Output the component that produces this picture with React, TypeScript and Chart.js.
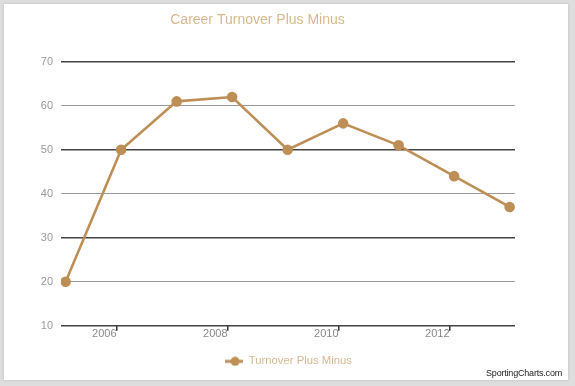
import React, { useEffect, useRef } from "react";
import { Chart, registerables } from "chart.js";

Chart.register(...registerables);

const seasons = [2005, 2006, 2007, 2008, 2009, 2010, 2011, 2012, 2013];
const monthOfEntry = 1 / 12; // points are dated early February of each year
const turnoverPlusMinus = [20, 50, 61, 62, 50, 56, 51, 44, 37];
const xTickYears = [2006, 2008, 2010, 2012];
const yTicks = [10, 20, 30, 40, 50, 60, 70];

const LINE_COLOR = "#bd8f57";
const TITLE_COLOR = "#d8b88f";
const FONT = "'Liberation Sans', Arial, sans-serif";

function makeLegendMarker(): HTMLCanvasElement {
  const c = document.createElement("canvas");
  c.width = 18;
  c.height = 10;
  const ctx = c.getContext("2d")!;
  ctx.strokeStyle = LINE_COLOR;
  ctx.lineWidth = 3;
  ctx.beginPath();
  ctx.moveTo(0, 5);
  ctx.lineTo(18, 5);
  ctx.stroke();
  ctx.fillStyle = LINE_COLOR;
  ctx.beginPath();
  ctx.arc(10, 5, 4.5, 0, Math.PI * 2);
  ctx.fill();
  return c;
}

const centerLegendPlugin = {
  id: "centerLegend",
  afterLayout(chart: any) {
    if (chart.legend) {
      chart.legend.left = 0;
      chart.legend.right = chart.width + 2;
    }
  },
};

export default function App() {
  const ref = useRef<HTMLCanvasElement>(null);

  useEffect(() => {
    if (!ref.current) return;
    const marker = makeLegendMarker();
    const chart = new Chart(ref.current, {
      type: "line",
      plugins: [centerLegendPlugin],
      data: {
        datasets: [
          {
            label: "Turnover Plus Minus",
            data: seasons.map((s, i) => ({ x: s + monthOfEntry, y: turnoverPlusMinus[i] })),
            borderColor: LINE_COLOR,
            backgroundColor: LINE_COLOR,
            pointBackgroundColor: LINE_COLOR,
            pointBorderColor: LINE_COLOR,
            pointRadius: 4,
            pointStyle: "circle",
            borderWidth: 2.6,
            tension: 0,
          },
        ],
      },
      options: {
        animation: false,
        responsive: false,
        layout: { padding: { top: 10, left: 0, right: 60, bottom: 9 } },
        plugins: {
          title: {
            display: true,
            text: "Career Turnover Plus Minus",
            color: TITLE_COLOR,
            font: { family: FONT, size: 14, weight: "normal" },
            padding: { top: 2, bottom: 33 },
          },
          legend: {
            display: true,
            position: "bottom",
            labels: {
              usePointStyle: true,
              pointStyleWidth: 18,
              color: TITLE_COLOR,
              font: { family: FONT, size: 11.3 },
              padding: 10,
              generateLabels: (ch: any) =>
                ch.data.datasets.map((d: any, i: number) => ({
                  text: d.label,
                  fillStyle: LINE_COLOR,
                  strokeStyle: LINE_COLOR,
                  fontColor: TITLE_COLOR,
                  pointStyle: marker,
                  lineWidth: 0,
                  datasetIndex: i,
                  hidden: false,
                })),
            },
          },
          tooltip: { enabled: false },
        },
        scales: {
          x: {
            type: "linear",
            min: 2005,
            max: 2013.18,
            afterBuildTicks: (scale: any) => {
              scale.ticks = xTickYears.map((v) => ({ value: v }));
            },
            afterFit: (scale: any) => {
              scale.height = 20;
            },
            border: { display: false },
            grid: {
              display: true,
              drawOnChartArea: false,
              drawTicks: true,
              tickLength: 5,
              color: "#333",
              lineWidth: 1.5,
            },
            ticks: {
              align: "end",
              padding: -3,
              maxRotation: 0,
              color: "#888",
              font: { family: FONT, size: 11 },
              callback: (v: any) => String(v),
            },
          },
          y: {
            min: 10,
            max: 70,
            afterBuildTicks: (scale: any) => {
              scale.ticks = yTicks.map((v) => ({ value: v }));
            },
            afterFit: (scale: any) => {
              scale.width = 61;
            },
            border: { display: false },
            grid: {
              drawTicks: false,
              color: (ctx: any) => {
                const v = ctx.tick ? ctx.tick.value : 0;
                return (v / 10) % 2 === 1 ? "#444" : "#9a9a9a";
              },
              lineWidth: (ctx: any) => {
                const v = ctx.tick ? ctx.tick.value : 0;
                return (v / 10) % 2 === 1 ? 1.5 : 1;
              },
            },
            ticks: {
              padding: 8,
              color: "#999",
              font: { family: FONT, size: 11 },
            },
          },
        },
      },
    });
    return () => chart.destroy();
  }, []);

  return (
    <div
      style={{
        position: "fixed",
        left: 0,
        top: 0,
        width: 575,
        height: 386,
        background: "#dedede",
        overflow: "hidden",
      }}
    >
      <div
        style={{
          position: "absolute",
          left: 4,
          top: 4,
          width: 564,
          height: 376,
          background: "#ffffff",
          boxShadow: "0 0 3px rgba(0,0,0,0.15)",
        }}
      />
      <canvas
        ref={ref}
        width={575}
        height={386}
        style={{ position: "absolute", left: 0, top: 0, width: 575, height: 386 }}
      />
      <div
        style={{
          position: "absolute",
          right: 13,
          top: 368,
          fontFamily: FONT,
          fontSize: 9,
          color: "#222",
          letterSpacing: -0.2,
        }}
      >
        SportingCharts.com
      </div>
    </div>
  );
}
